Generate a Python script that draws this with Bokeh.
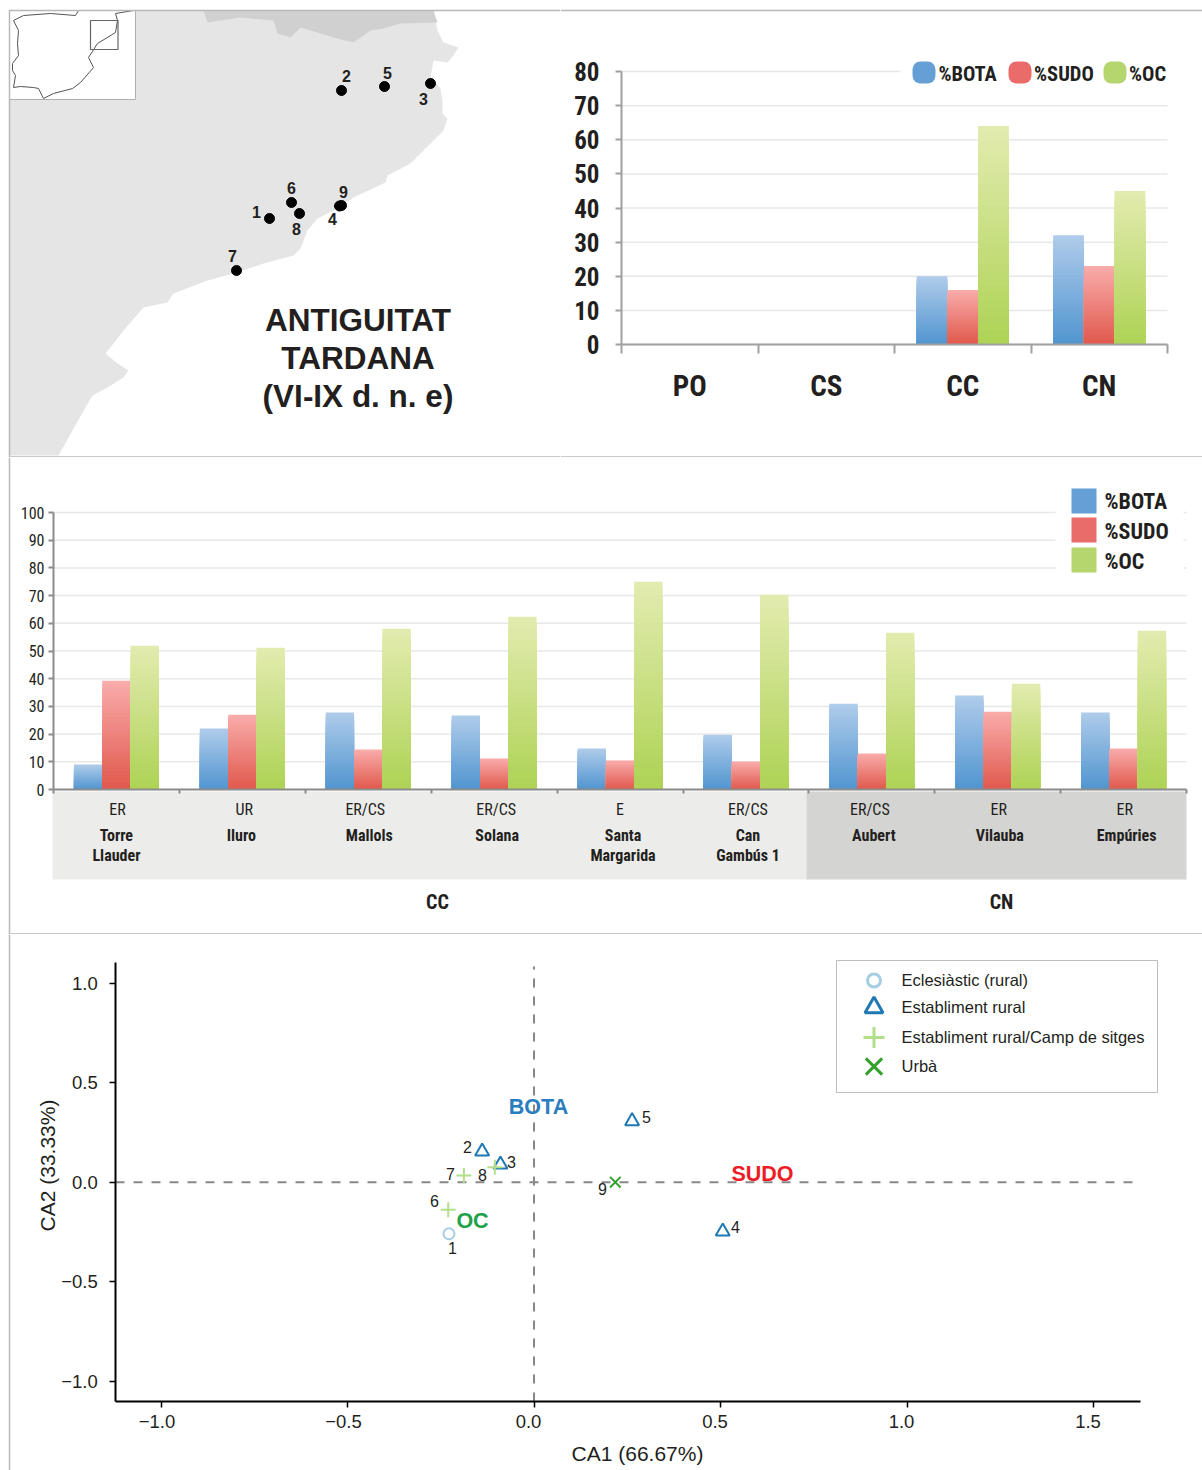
from bokeh.plotting import figure
from bokeh.layouts import column, row
from bokeh.models import LinearAxis, FixedTicker, Range1d
from bokeh.core.properties import value
from bokeh.embed import file_html
from bokeh.resources import INLINE

# ---------- data ----------
series_names = ["%BOTA", "%SUDO", "%OC"]
region_labels = ["PO", "CS", "CC", "CN"]
region_bota = [0, 0, 20, 32]
region_sudo = [0, 0, 16, 23]
region_oc = [0, 0, 64, 45]
region_ticks = [0, 10, 20, 30, 40, 50, 60, 70, 80]

site_types = ["ER", "UR", "ER/CS", "ER/CS", "E", "ER/CS", "ER/CS", "ER", "ER"]
site_names = ["Torre\nLlauder", "Iluro", "Mallols", "Solana", "Santa\nMargarida",
              "Can\nGambús 1", "Aubert", "Vilauba", "Empúries"]
site_bota = [9, 22, 27.8, 26.7, 14.8, 19.8, 31, 33.9, 27.8]
site_sudo = [39.3, 27, 14.4, 11.2, 10.5, 10.1, 13, 28.1, 14.8]
site_oc = [51.9, 51.2, 58, 62.4, 75, 70.3, 56.6, 38.2, 57.3]
site_ticks = [0, 10, 20, 30, 40, 50, 60, 70, 80, 90, 100]
type_nudge = [1, 2, -3, 2, 0, 2, -2, 1, 1]
name_nudge = [0, -1, 1, 3, 3, 2, 2, 2, 3]

map_no = ["1", "2", "3", "4", "5", "6", "7", "8", "9"]
map_x = [269, 341, 430, 339, 384, 291, 236, 299, 341]
map_y = [218, 90, 83, 205.5, 86, 202, 270, 213, 205]
map_lx = [256, 346, 423, 332, 387, 291, 232, 296, 343]
map_ly = [211, 75, 98, 218, 72, 187, 255, 228, 191]
land_x = [9, 433, 437, 443, 458, 453, 447, 433, 430, 440, 442, 442, 447, 443, 430, 410, 387, 385, 353, 337, 317, 307, 300, 293, 263, 233, 207, 173, 167, 143, 123, 110, 105, 117, 128, 123, 107, 92, 85, 72, 58, 9]
land_y = [10, 10, 30, 42, 47, 55, 62, 60, 77, 88, 100, 113, 118, 130, 143, 163, 175, 182, 197, 208, 218, 230, 248, 255, 263, 273, 280, 293, 302, 307, 330, 347, 353, 363, 370, 377, 387, 395, 407, 430, 455, 455]
pyr_x = [203, 207, 220, 240, 273, 277, 290, 300, 320, 337, 353, 370, 383, 400, 437, 433]
pyr_y = [10, 22, 20, 17, 20, 33, 37, 27, 33, 38, 42, 30, 28, 23, 22, 10]
iberia_x = [78, 75, 50, 23, 13, 18, 17, 18, 12, 12, 15, 13, 20, 33, 38, 43, 53, 72, 80, 93, 88, 97, 115, 117, 115, 133]
iberia_y = [10, 15, 13, 15, 20, 30, 43, 55, 63, 70, 75, 87, 86, 87, 88, 98, 93, 88, 82, 67, 57, 43, 32, 20, 13, 10]

ca_no = ["1", "2", "3", "4", "5", "6", "7", "8", "9"]
ca1 = [-0.228, -0.139, -0.09, 0.506, 0.263, -0.23, -0.188, -0.105, 0.218]
ca2 = [-0.259, 0.154, 0.089, -0.248, 0.307, -0.139, 0.034, 0.075, 0.0]
ca_kind = [0, 1, 1, 1, 1, 2, 2, 2, 3]
ca_lx = [452, 467, 511, 735, 646, 434, 450, 482, 602]
ca_ly = [1247, 1146, 1161, 1226, 1116, 1200, 1173, 1174, 1188]
kind_names = ["Eclesiàstic (rural)", "Establiment rural", "Establiment rural/Camp de sitges", "Urbà"]
var_names = ["BOTA", "SUDO", "OC"]
var_x = [538, 762, 472]
var_y = [1106, 1173, 1220]
x_ticks = [-1.0, -0.5, 0.0, 0.5, 1.0, 1.5]
x_tick_labels = ["−1.0", "−0.5", "0.0", "0.5", "1.0", "1.5"]
y_ticks = [-1.0, -0.5, 0.0, 0.5, 1.0]
y_tick_labels = ["−1.0", "−0.5", "0.0", "0.5", "1.0"]

# ---------- style ----------
NARROW = "Roboto Condensed, Roboto"
ARIAL = "Liberation Sans"
INK = "#231f20"
FRAME = "#b8b8b8"
GRID = "#e8e8e8"
TOPS = ["#aecbea", "#f9abaa", "#e2ebae"]
BOTTOMS = ["#5296d0", "#e05a4e", "#aed356"]
SWATCH = ["#659fd5", "#e96c6b", "#b5d66e"]
MARK = ["#a6cee3", "#1f78b4", "#b2df8a", "#33a02c"]
MARK_TYPE = ["circle", "triangle", "cross", "x"]
VAR_COL = ["#2a7dbf", "#ee1c25", "#1fa24a"]


def mk(w, h, xr, yr):
    p = figure(width=w, height=h, x_range=xr, y_range=yr, x_axis_type=None, y_axis_type=None,
               toolbar_location=None, output_backend="svg", min_border=0,
               outline_line_color=None, background_fill_color="white", border_fill_color="white")
    p.grid.visible = False
    return p


def txt(p, x, y, s, size, font=NARROW, style="normal", color=INK, align="center", base="middle", angle=0):
    p.text(x=[x], y=[y], text=[s], text_font=value(font), text_font_size=value(f"{size}px"),
           text_font_style=style, text_color=color, text_align=align, text_baseline=base, angle=angle)


def mix(a, b, t):
    ca = [int(a[i:i + 2], 16) for i in (1, 3, 5)]
    cb = [int(b[i:i + 2], 16) for i in (1, 3, 5)]
    return "#%02x%02x%02x" % tuple(round(u + (v - u) * t) for u, v in zip(ca, cb))


def grad_bars(p, series, n=30):
    w = 0.225
    for k, vals in enumerate(series):
        xs = [i + 0.5 + (k - 1) * w for i in range(len(vals))]
        for j in range(n):
            f = 1 - j / n
            p.vbar(x=xs, top=[v * f for v in vals], width=w, bottom=0,
                   fill_color=mix(TOPS[k], BOTTOMS[k], j / (n - 1)), line_color=None)


def axis(p, side, ticks, bounds, loc, color, width, tick_len, labels=None, **kw):
    a = LinearAxis(ticker=FixedTicker(ticks=ticks), fixed_location=loc, bounds=bounds)
    a.axis_line_color = color
    a.axis_line_width = width
    a.major_tick_line_color = color
    a.major_tick_line_width = kw.pop("tick_w", width)
    a.major_tick_out = tick_len
    a.major_tick_in = 0
    a.minor_tick_line_color = None
    if labels is not None:
        a.major_label_overrides = dict(zip(ticks, labels))
    for key, val in kw.items():
        setattr(a, key, val)
    p.add_layout(a, side)
    return a


# ---------- map panel ----------
m = mk(560, 457, Range1d(0, 560), Range1d(457, 0))
m.patch(land_x, land_y, fill_color="#e4e5e4", line_color=None)
m.patch(pyr_x, pyr_y, fill_color="#cfd0cf", line_color=None)
m.quad(left=[9], right=[135], top=[10], bottom=[99], fill_color="white", line_color="#b0b0b0", line_width=1)
m.line(iberia_x, iberia_y, line_color="#555555", line_width=1)
m.quad(left=[90], right=[117.5], top=[20], bottom=[49], fill_color=None, line_color="#666666", line_width=1.2)
m.scatter(map_x, map_y, size=10, marker="circle", fill_color="black", line_color="black")
for lab, lx, ly in zip(map_no, map_lx, map_ly):
    txt(m, lx, ly, lab, 16, font=ARIAL, style="bold")
for t, y in zip(["ANTIGUITAT", "TARDANA", "(VI-IX d. n. e)"], [319, 357, 395]):
    txt(m, 357.5, y, t, 31.5, font=ARIAL, style="bold")
m.line([9, 9], [10, 457], line_color=FRAME, line_width=1.5)
m.line([9, 560], [10, 10], line_color=FRAME, line_width=1.5)
m.line([9, 560], [456.5, 456.5], line_color=FRAME, line_width=1.5)

# ---------- region bars ----------
kx1, ky1 = 136.5, 3.4125
fx1 = lambda px: (px - 621) / kx1
fy1 = lambda py: (344 - py) / ky1
b1 = mk(642, 457, Range1d(fx1(560), fx1(1202)), Range1d(fy1(457), fy1(0)))
b1.multi_line([[0, 4]] * len(region_ticks), [[t, t] for t in region_ticks], line_color=GRID, line_width=1.5)
b1.quad(left=[fx1(900)], right=[fx1(1172)], top=[fy1(55)], bottom=[fy1(90)], fill_color="white", line_color=None)
grad_bars(b1, [region_bota, region_sudo, region_oc])
axis(b1, "left", region_ticks, (0, 80), 0, "#a0a0a0", 2, 6,
     major_label_text_font=NARROW, major_label_text_font_style="bold",
     major_label_text_font_size="25px", major_label_text_color=INK, major_label_standoff=16)
axis(b1, "below", [0, 1, 2, 3, 4], (0, 4), 0, "#a0a0a0", 2, 9,
     labels=[""] * 5, major_label_text_font_size="1px")
lab1 = axis(b1, "below", [0.5, 1.5, 2.5, 3.5], (0, 4), 0, "#a0a0a0", 2, 0, labels=region_labels,
            major_label_text_font=NARROW, major_label_text_font_style="bold",
            major_label_text_font_size="29px", major_label_text_color=INK, major_label_standoff=24)
lab1.axis_line_color = None
lab1.major_tick_line_color = None
for name, col, sx, tx in zip(series_names, SWATCH, [912, 1008, 1103], [938, 1033.5, 1128.5]):
    b1.quad(left=[fx1(sx)], right=[fx1(sx + 23)], top=[fy1(61)], bottom=[fy1(83)], fill_color=col,
            line_color=None, border_radius=8)
    txt(b1, fx1(tx), fy1(73), name, 20.5, style="bold", align="left")
b1.line([fx1(560), fx1(1202)], [fy1(10), fy1(10)], line_color=FRAME, line_width=1.5)
b1.line([fx1(560), fx1(1202)], [fy1(456.5), fy1(456.5)], line_color=FRAME, line_width=1.5)

# ---------- site bars ----------
kx2, ky2 = 125.9, 2.77
fx2 = lambda px: (px - 53) / kx2
fy2 = lambda py: (789 - py) / ky2
b2 = mk(1202, 477, Range1d(fx2(0), fx2(1202)), Range1d(fy2(934), fy2(457)))
b2.multi_line([[0, 9]] * len(site_ticks), [[t, t] for t in site_ticks], line_color=GRID, line_width=1.5)
b2.quad(left=[fx2(1055)], right=[fx2(1183)], top=[fy2(485)], bottom=[fy2(575)], fill_color="white", line_color=None)
b2.quad(left=[fx2(52), fx2(806)], right=[fx2(806), fx2(1186)], top=[fy2(791)] * 2, bottom=[fy2(879)] * 2,
        fill_color=["#ececea", "#d4d4d2"], line_color=None)
grad_bars(b2, [site_bota, site_sudo, site_oc])
axis(b2, "left", site_ticks, (0, 100), 0, "#8c8c8c", 2, 5,
     major_label_text_font=NARROW, major_label_text_font_size="16px",
     major_label_text_color=INK, major_label_standoff=4)
axis(b2, "below", list(range(10)), (0, 9), 0, "#8c8c8c", 2, 4,
     labels=[""] * 10, major_label_text_font_size="1px")
for i, (t, n, dt, dn) in enumerate(zip(site_types, site_names, type_nudge, name_nudge)):
    txt(b2, i + 0.5 + dt / kx2, fy2(809), t, 16)
    b2.text(x=[i + 0.5 + dn / kx2], y=[fy2(825)], text=[n], text_font=value(NARROW),
            text_font_size=value("16px"), text_font_style="bold", text_color=INK,
            text_align="center", text_baseline="top", text_line_height=1.09)
txt(b2, fx2(437), fy2(901), "CC", 20, style="bold")
txt(b2, fx2(1001), fy2(901), "CN", 20, style="bold")
for name, col, sy, ty in zip(series_names, SWATCH, [488, 517, 547], [501, 531, 561]):
    b2.quad(left=[fx2(1071)], right=[fx2(1096)], top=[fy2(sy)], bottom=[fy2(sy + 25)], fill_color=col, line_color=None)
    txt(b2, fx2(1104), fy2(ty), name, 22, style="bold", align="left")
b2.line([fx2(9), fx2(9)], [fy2(457), fy2(934)], line_color=FRAME, line_width=1.5)
b2.line([fx2(9), fx2(1202)], [fy2(933.5), fy2(933.5)], line_color=FRAME, line_width=1.5)

# ---------- correspondence analysis ----------
kx3, ky3 = 373.0, 199.0
fx3 = lambda px: (px - 533.5) / kx3
fy3 = lambda py: (1181.7 - py) / ky3
s = mk(1202, 536, Range1d(fx3(0), fx3(1202)), Range1d(fy3(1470), fy3(934)))
s.line([fx3(115), fx3(1135)], [0, 0], line_color="#888888", line_width=2, line_dash="9 9")
s.line([0, 0], [fy3(1401), fy3(966)], line_color="#888888", line_width=2, line_dash="9 9")
kind_size = [11, 14, 15, 15]
for k in range(4):
    xs = [x for x, g in zip(ca1, ca_kind) if g == k]
    ys = [y for y, g in zip(ca2, ca_kind) if g == k]
    s.scatter(xs, ys, marker=MARK_TYPE[k], size=kind_size[k], fill_color=None, line_color=MARK[k], line_width=2)
for lab, lx, ly in zip(ca_no, ca_lx, ca_ly):
    txt(s, fx3(lx), fy3(ly), lab, 16, font=ARIAL)
for name, col, vx, vy in zip(var_names, VAR_COL, var_x, var_y):
    txt(s, fx3(vx), fy3(vy), name, 21.5, font=ARIAL, style="bold", color=col)
axis(s, "left", y_ticks, (fy3(1401), fy3(962)), fx3(115.3), "black", 2, 6, labels=y_tick_labels,
     major_label_text_font=ARIAL, major_label_text_font_size="18.5px",
     major_label_text_color=INK, major_label_standoff=12, tick_w=1.5)
axis(s, "below", x_ticks, (fx3(115.3), fx3(1140)), fy3(1401), "black", 2, 6, labels=[""] * 6,
     major_label_text_font_size="1px", tick_w=1.5)
for tv, tl in zip(x_ticks, x_tick_labels):
    txt(s, tv - (4 if tv < 0 else 5.5) / kx3, fy3(1421), tl, 18.5, font=ARIAL)
txt(s, fx3(637), fy3(1453), "CA1 (66.67%)", 21, font=ARIAL)
txt(s, fx3(47), fy3(1165), "CA2 (33.33%)", 21, font=ARIAL, angle=1.5708)
s.quad(left=[fx3(836)], right=[fx3(1157)], top=[fy3(960)], bottom=[fy3(1092)], fill_color="white", line_color="#bdbdbd", line_width=1)
legend_size = [13, 18, 21, 23]
for k, (name, ly) in enumerate(zip(kind_names, [980, 1007, 1037, 1066])):
    s.scatter([fx3(873.5)], [fy3(ly)], marker=MARK_TYPE[k], size=legend_size[k], fill_color=None,
              line_color=MARK[k], line_width=3)
    txt(s, fx3(901), fy3(ly - 0.5), name, 16.5, font=ARIAL, align="left")
s.line([fx3(9), fx3(9)], [fy3(934), fy3(1470)], line_color=FRAME, line_width=1.5)

page = column(row(m, b1, spacing=0), b2, s, spacing=0)
open("out.html", "w").write(file_html(page, INLINE))
